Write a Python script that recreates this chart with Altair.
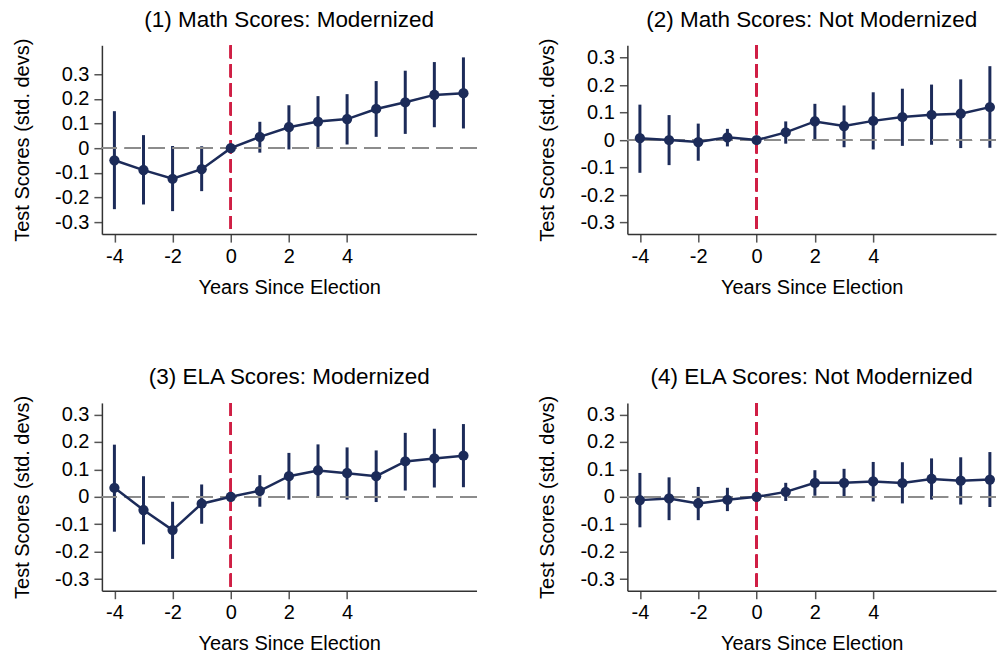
import altair as alt
import pandas as pd

years = [-4, -3, -2, -1, 0, 1, 2, 3, 4, 5, 6, 7, 8]

# (1) Math Scores: Modernized
m_mod = [-0.049, -0.089, -0.124, -0.085, 0.0, 0.046, 0.085, 0.108, 0.118, 0.159, 0.186, 0.216, 0.223]
m_mod_lo = [-0.247, -0.228, -0.255, -0.174, 0.0, -0.018, -0.005, 0.005, 0.015, 0.046, 0.058, 0.085, 0.080]
m_mod_hi = [0.150, 0.053, 0.009, 0.008, 0.0, 0.107, 0.174, 0.211, 0.219, 0.272, 0.314, 0.349, 0.368]

# (2) Math Scores: Not Modernized
m_not = [0.007, 0.0, -0.007, 0.010, 0.0, 0.028, 0.068, 0.051, 0.070, 0.084, 0.092, 0.096, 0.120]
m_not_lo = [-0.119, -0.091, -0.075, -0.023, 0.0, -0.013, 0.002, -0.026, -0.034, -0.021, -0.017, -0.029, -0.028]
m_not_hi = [0.129, 0.091, 0.060, 0.041, 0.0, 0.068, 0.132, 0.126, 0.174, 0.187, 0.202, 0.221, 0.269]

# (3) ELA Scores: Modernized
e_mod = [0.033, -0.048, -0.121, -0.025, 0.0, 0.022, 0.075, 0.096, 0.086, 0.075, 0.129, 0.140, 0.150]
e_mod_lo = [-0.127, -0.173, -0.226, -0.098, 0.0, -0.036, -0.010, 0.0, -0.010, -0.019, 0.023, 0.034, 0.035]
e_mod_hi = [0.190, 0.075, -0.018, 0.045, 0.0, 0.079, 0.160, 0.191, 0.180, 0.169, 0.233, 0.248, 0.265]

# (4) ELA Scores: Not Modernized
e_not = [-0.012, -0.006, -0.024, -0.011, 0.0, 0.018, 0.051, 0.051, 0.056, 0.050, 0.065, 0.059, 0.063]
e_not_lo = [-0.111, -0.085, -0.085, -0.052, 0.0, -0.015, 0.004, -0.001, -0.017, -0.024, -0.010, -0.028, -0.037]
e_not_hi = [0.087, 0.071, 0.036, 0.033, 0.0, 0.051, 0.097, 0.102, 0.127, 0.126, 0.140, 0.144, 0.163]

titles = ["(1) Math Scores: Modernized", "(2) Math Scores: Not Modernized",
          "(3) ELA Scores: Modernized", "(4) ELA Scores: Not Modernized"]
x_ticks = [-4, -2, 0, 2, 4]
y_ticks = [-0.3, -0.2, -0.1, 0.0, 0.1, 0.2, 0.3]

NAVY = "#1c2b59"
RED = "#cf1f45"
GRAY = "#8c8c8c"
FONT = "Liberation Sans"


def panel(coef, lo, hi, title, xdom, ydom, width, height):
    df = pd.DataFrame({"year": years, "coef": coef, "lo": lo, "hi": hi})
    xs = alt.Scale(domain=xdom, nice=False, zero=False)
    ys = alt.Scale(domain=ydom, nice=False, zero=False)
    xax = alt.Axis(values=x_ticks, tickCount=20, title="Years Since Election", grid=False,
                   tickSize=8, labelPadding=4, titlePadding=11, labelOverlap=False,
                   labelFlush=False,
                   labelExpr="(datum.value < 0 ? '-' : '') + abs(datum.value)")
    yax = alt.Axis(values=y_ticks, tickCount=20, title="Test Scores (std. devs)", grid=False,
                   tickSize=8, labelPadding=5, titlePadding=22, labelOverlap=False,
                   labelFlush=False,
                   labelExpr="datum.value == 0 ? '0' : (datum.value < 0 ? '-' : '') + format(abs(datum.value), '.1f')")
    base = alt.Chart(df)
    zero = base.mark_rule(color=GRAY, strokeWidth=1.8, strokeDash=[16, 8]).encode(
        y=alt.datum(0, scale=ys))
    vline = base.mark_rule(color=RED, strokeWidth=1.8, strokeDash=[13, 6]).encode(
        x=alt.datum(0, scale=xs))
    bars = base.mark_rule(color=NAVY, strokeWidth=3).encode(
        x=alt.X("year:Q", scale=xs, axis=xax),
        y=alt.Y("lo:Q", scale=ys, axis=yax),
        y2="hi:Q")
    line = base.mark_line(color=NAVY, strokeWidth=2.5).encode(
        x=alt.X("year:Q", scale=xs), y=alt.Y("coef:Q", scale=ys))
    pts = base.mark_circle(color=NAVY, size=105, opacity=1).encode(
        x=alt.X("year:Q", scale=xs), y=alt.Y("coef:Q", scale=ys))
    return alt.layer(bars, zero, vline, line, pts).properties(
        width=width, height=height,
        title=alt.TitleParams(title, fontSize=22.5, font=FONT, fontWeight="normal",
                              color="black", anchor="middle", frame="group", offset=7))


p1 = panel(m_mod, m_mod_lo, m_mod_hi, titles[0], [-4.43, 8.45], [-0.348, 0.417], 375, 189)
p2 = panel(m_not, m_not_lo, m_not_hi, titles[1], [-4.43, 8.21], [-0.342, 0.345], 369, 189)
p3 = panel(e_mod, e_mod_lo, e_mod_hi, titles[2], [-4.43, 8.45], [-0.342, 0.342], 375, 188)
p4 = panel(e_not, e_not_lo, e_not_hi, titles[3], [-4.43, 8.21], [-0.342, 0.342], 369, 188)

chart = alt.vconcat(
    alt.hconcat(p1, p2, spacing=60),
    alt.hconcat(p3, p4, spacing=60),
    spacing=68,
).properties(
    padding={"left": 12, "top": 8, "right": 0, "bottom": 0},
    background="white",
).configure_view(stroke=None).configure_axis(
    labelFont=FONT, titleFont=FONT, labelFontSize=20, titleFontSize=20,
    titleFontWeight="normal", labelColor="black", titleColor="black",
    domainColor="#333333", tickColor="#555555", domainWidth=1.5, tickWidth=1.5,
)

chart.save("out.html", embed_options={"renderer": "svg", "actions": False})
